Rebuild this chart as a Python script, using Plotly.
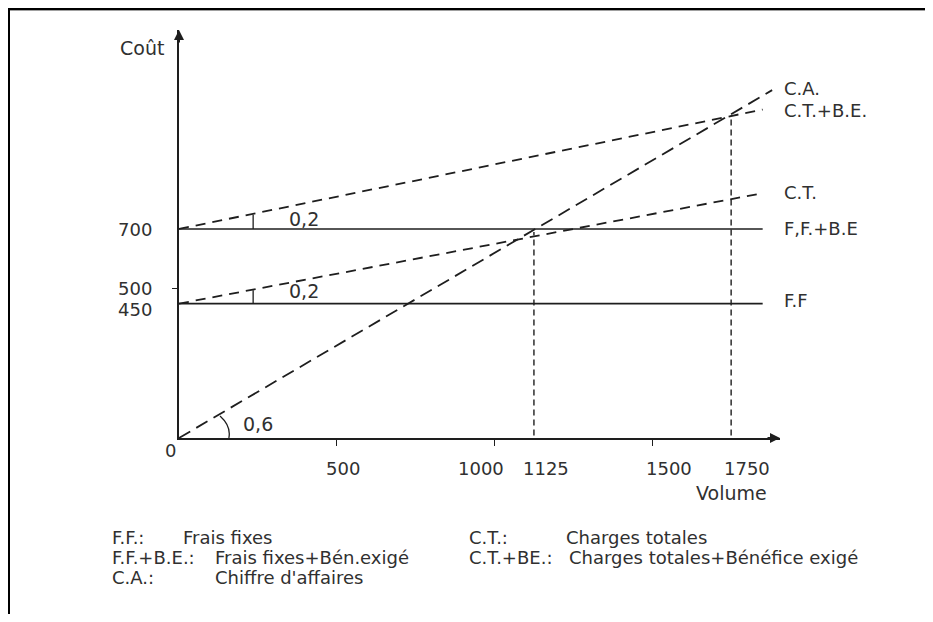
import plotly.graph_objects as go

# ---------------- data ----------------
volume_end = [0, 1850]          # extent of the cost lines
volume_end_ca = [0, 1880]       # extent of the turnover line
ff = [450, 450]                 # F.F. : frais fixes
ff_be = [700, 700]              # F.F.+B.E.
ct = [450, 820]                 # C.T. : charges totales
ct_be = [700, 1100]             # C.T.+B.E.
ca = [0, 1165]                  # C.A. : chiffre d'affaires

breakeven_volumes = [1125, 1750]
breakeven_costs = [690, 1082]

x_tick_vals = [500, 1000, 1125, 1500, 1750]
x_tick_text = ["500", "1000", "1125", "1500", "1750"]
x_tick_shift = [6, -14, 12, 17, 16]
y_tick_vals = [700, 500, 450]
y_tick_text = ["700", "500", "450"]
y_tick_shift = [-1, 0, -6]

line_labels = ["C.A.", "C.T.+B.E.", "C.T.", "F,F.+B.E", "F.F"]
line_label_py = [88, 111, 192, 228, 300]

slope_labels = ["0,2", "0,2", "0,6"]
slope_label_pos = [(287, 219), (287, 291), (241, 424)]

legend_rows = [
    ("F.F.:", "Frais fixes", 110, 181, 537),
    ("F.F.+B.E.:", "Frais fixes+Bén.exigé", 110, 213, 557),
    ("C.A.:", "Chiffre d'affaires", 110, 213, 577),
    ("C.T.:", "Charges totales", 467, 564, 537),
    ("C.T.+BE.:", "Charges totales+Bénéfice exigé", 467, 567, 557),
]

# ---------------- layout geometry (page pixels) ----------------
OFF = 8                               # default body margin of the page
W, H = 933 - 2 * OFF, 622 - 2 * OFF
L, R, T, B = 179, 780, 30, 438        # plot area, page pixels
XMAX = (R - L) / 0.3155
YMAX = (B - T) / 0.2986


def px(xp):
    return (xp - L) / (R - L)


def py(yp):
    return (B - yp) / (B - T)


INK = "#1e1e1e"
TXT = "#303030"
FONT = "DejaVu Sans, Liberation Sans, sans-serif"

fig = go.Figure()

for yv in (ff, ff_be):
    fig.add_trace(go.Scatter(x=volume_end, y=yv, mode="lines",
                             line=dict(color=INK, width=1.7),
                             hoverinfo="skip", showlegend=False, cliponaxis=False))
for yv in (ct, ct_be):
    fig.add_trace(go.Scatter(x=volume_end, y=yv, mode="lines",
                             line=dict(color=INK, width=1.8, dash="10px,7px"),
                             hoverinfo="skip", showlegend=False, cliponaxis=False))
fig.add_trace(go.Scatter(x=volume_end_ca, y=ca, mode="lines",
                         line=dict(color=INK, width=1.8, dash="13px,7px"),
                         hoverinfo="skip", showlegend=False, cliponaxis=False))
for xv, yv in zip(breakeven_volumes, breakeven_costs):
    fig.add_trace(go.Scatter(x=[xv, xv], y=[-25, yv], mode="lines",
                             line=dict(color=INK, width=1.4, dash="6px,4px"),
                             hoverinfo="skip", showlegend=False, cliponaxis=False))

shapes = []
shapes.append(dict(type="line", xref="x", yref="y", x0=235, x1=235, y0=700, y1=748,
                   line=dict(color=INK, width=1.3)))
shapes.append(dict(type="line", xref="x", yref="y", x0=235, x1=235, y0=450, y1=495,
                   line=dict(color=INK, width=1.3)))
shapes.append(dict(type="path", xref="x", yref="y",
                   path="M 158,0 Q 166,40 130,74", line=dict(color=INK, width=1.3)))
# frame of the scanned figure
shapes.append(dict(type="line", xref="paper", yref="paper",
                   x0=px(7), x1=px(945), y0=py(8.5), y1=py(8.5),
                   line=dict(color="black", width=3)))
shapes.append(dict(type="line", xref="paper", yref="paper",
                   x0=px(8.5), x1=px(8.5), y0=py(7), y1=py(640),
                   line=dict(color="black", width=3)))
shapes.append(dict(type="line", xref="paper", yref="paper",
                   x0=px(10), x1=px(945), y0=py(10.5), y1=py(10.5),
                   line=dict(color="#a0a0a0", width=1)))

ann = []
ann.append(dict(x=0, y=YMAX, xref="x", yref="y", text="", showarrow=True,
                ax=0, ay=14, arrowhead=2, arrowsize=1, arrowwidth=2, arrowcolor=INK))
ann.append(dict(x=XMAX, y=0, xref="x", yref="y", text="", showarrow=True,
                ax=-14, ay=0, arrowhead=2, arrowsize=1, arrowwidth=2, arrowcolor=INK))


def f(size):
    return dict(family=FONT, size=size, color=TXT)


ann.append(dict(x=px(166), y=py(48), xref="paper", yref="paper", text="Coût",
                showarrow=False, xanchor="right", yanchor="middle", font=f(19)))
ann.append(dict(x=px(731), y=py(493), xref="paper", yref="paper", text="Volume",
                showarrow=False, xanchor="center", yanchor="middle", font=f(19)))
ann.append(dict(x=px(170), y=py(451), xref="paper", yref="paper", text="0",
                showarrow=False, xanchor="center", yanchor="middle", font=f(18)))
for v, t, s in zip(x_tick_vals, x_tick_text, x_tick_shift):
    ann.append(dict(x=v, y=py(468), xref="x", yref="paper", text=t, xshift=s,
                    showarrow=False, xanchor="center", yanchor="middle", font=f(18)))
for v, t, s in zip(y_tick_vals, y_tick_text, y_tick_shift):
    ann.append(dict(x=px(154), y=v, xref="paper", yref="y", text=t, yshift=s,
                    showarrow=False, xanchor="right", yanchor="middle", font=f(18)))
for t, yp in zip(line_labels, line_label_py):
    ann.append(dict(x=px(782), y=py(yp), xref="paper", yref="paper", text=t,
                    showarrow=False, xanchor="left", yanchor="middle", font=f(18)))
for t, (xp, yp) in zip(slope_labels, slope_label_pos):
    ann.append(dict(x=px(xp), y=py(yp), xref="paper", yref="paper", text=t,
                    showarrow=False, xanchor="left", yanchor="middle", font=f(19)))
for abbr, desc, xa, xd, yp in legend_rows:
    ann.append(dict(x=px(xa), y=py(yp), xref="paper", yref="paper", text=abbr,
                    showarrow=False, xanchor="left", yanchor="middle", font=f(18)))
    ann.append(dict(x=px(xd), y=py(yp), xref="paper", yref="paper", text=desc,
                    showarrow=False, xanchor="left", yanchor="middle", font=f(18)))

fig.update_layout(
    width=W, height=H,
    margin=dict(l=L - OFF, r=W - (R - OFF), t=T - OFF, b=H - (B - OFF), autoexpand=False),
    paper_bgcolor="white", plot_bgcolor="white",
    showlegend=False,
    shapes=shapes, annotations=ann,
    xaxis=dict(range=[0, XMAX], showgrid=False, zeroline=False,
               showline=True, linewidth=2, linecolor=INK,
               tickvals=[500, 1000, 1500], ticks="outside", ticklen=6,
               tickwidth=1.3, tickcolor=INK, showticklabels=False, fixedrange=True),
    yaxis=dict(range=[0, YMAX], showgrid=False, zeroline=False,
               showline=True, linewidth=2, linecolor=INK,
               tickvals=[500], ticks="outside", ticklen=5,
               tickwidth=1.3, tickcolor=INK, showticklabels=False, fixedrange=True),
)

fig.write_html("out.html")
